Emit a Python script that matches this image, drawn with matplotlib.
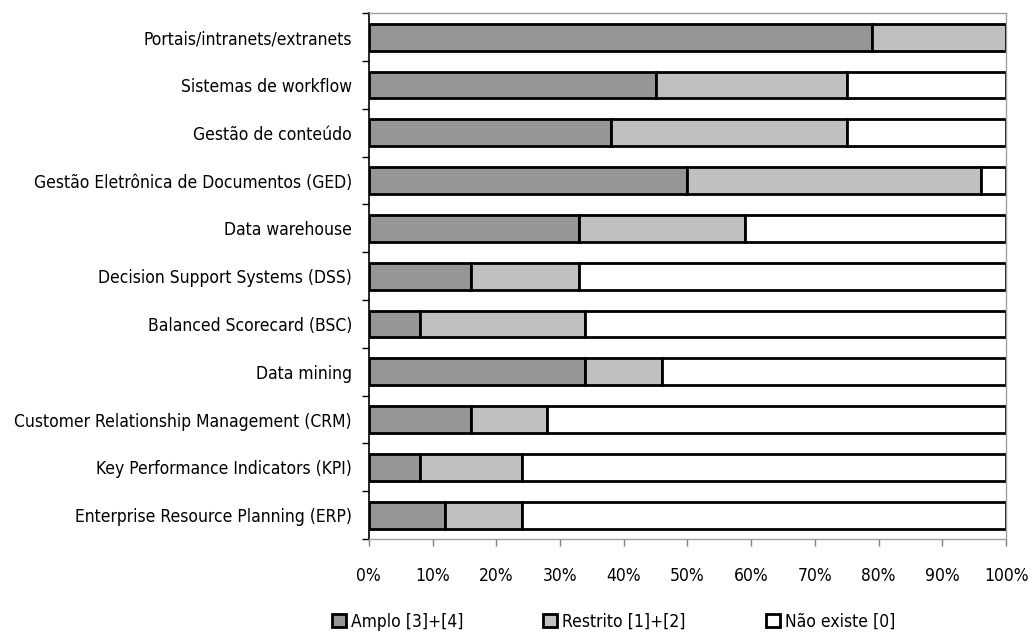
import matplotlib
matplotlib.use("Agg")
import matplotlib.pyplot as plt
from matplotlib.patches import Patch
from matplotlib.ticker import FixedLocator, PercentFormatter

plt.rcParams['font.family'] = ['DejaVu Sans']
plt.rcParams['font.stretch'] = 'condensed'

# data, top to bottom as in the chart
categories = ['Portais/intranets/extranets', 'Sistemas de workflow', 'Gestão de conteúdo',
              'Gestão Eletrônica de Documentos (GED)', 'Data warehouse',
              'Decision Support Systems (DSS)', 'Balanced Scorecard (BSC)', 'Data mining',
              'Customer Relationship Management (CRM)', 'Key Performance Indicators (KPI)',
              'Enterprise Resource Planning (ERP)']
amplo = [79, 45, 38, 50, 33, 16, 8, 34, 16, 8, 12]
restrito = [21, 30, 37, 46, 26, 17, 26, 12, 12, 16, 12]
nao_existe = [0, 25, 25, 4, 41, 67, 66, 54, 72, 76, 76]
series_names = ['Amplo [3]+[4]', 'Restrito [1]+[2]', 'Não existe [0]']
colors = ['#969696', '#c0c0c0', '#ffffff']

FS = 12.5

fig = plt.figure(figsize=(10.33, 6.32), dpi=100)
ax = fig.add_axes([0.357, 0.147, 0.617, 0.832])

ypos = list(range(len(categories)))
left = [0] * len(categories)
for vals, col in zip([amplo, restrito, nao_existe], colors):
    ax.barh(ypos, vals, left=left, height=0.56, color=col, edgecolor='black', linewidth=2.0)
    left = [a + b for a, b in zip(left, vals)]

ax.set_xlim(0, 100)
ax.set_ylim(len(categories) - 0.5, -0.5)

# excel style: ticks between categories, labels at centres
ax.yaxis.set_major_locator(FixedLocator([i - 0.5 for i in range(len(categories) + 1)]))
ax.yaxis.set_major_formatter(plt.NullFormatter())
ax.yaxis.set_minor_locator(FixedLocator(ypos))
ax.set_yticklabels(categories, minor=True)
ax.tick_params(axis='y', which='major', length=5, width=1, color='black', direction='out')
ax.tick_params(axis='y', which='minor', length=0, pad=12, labelsize=FS)

ax.set_xticks(range(0, 101, 10))
ax.xaxis.set_major_formatter(PercentFormatter(decimals=0))
ax.tick_params(axis='x', length=5, width=1, color='#808080', pad=15, labelsize=FS)

for side in ['top', 'right', 'bottom']:
    ax.spines[side].set_color('#a0a0a0')
    ax.spines[side].set_linewidth(1)
ax.spines['left'].set_color('black')
ax.spines['left'].set_linewidth(1.2)

handles = [Patch(facecolor=c, edgecolor='black', linewidth=2.0) for c in colors]
fig.legend(handles, series_names, loc='center', bbox_to_anchor=(0.594, 0.016), ncol=3,
           frameon=False, fontsize=FS, handlelength=0.8, handleheight=0.8,
           handletextpad=0.3, columnspacing=4.6)

fig.savefig('out.png', dpi=100)
